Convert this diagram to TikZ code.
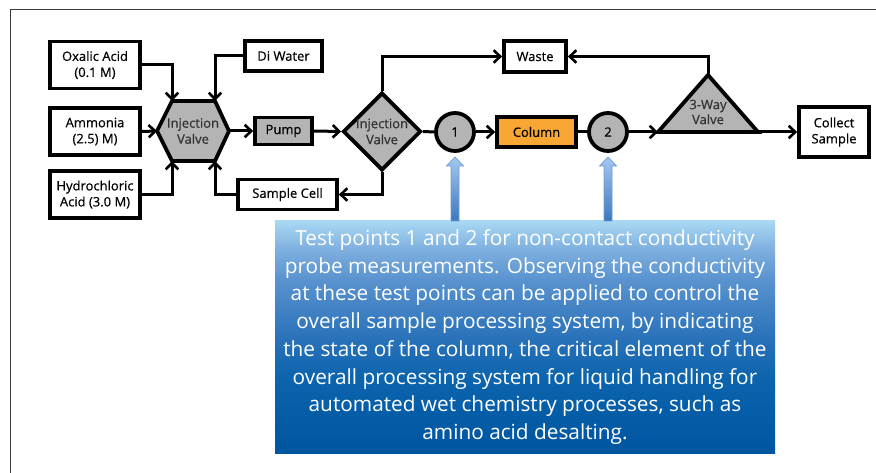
\documentclass[tikz,border=0pt]{standalone}
\usepackage{fontspec}
\setmainfont{Open Sans}
\newfontfamily\lblfont[FakeBold=0.5]{Open Sans}
\usetikzlibrary{arrows.meta,shapes.geometric}
\definecolor{valvegray}{RGB}{180,180,180}
\definecolor{colorange}{RGB}{248,166,52}
\definecolor{framegray}{RGB}{60,60,60}
\definecolor{tbA}{RGB}{0,85,160}
\definecolor{tbB}{RGB}{11,100,173}
\definecolor{tbC}{RGB}{42,114,186}
\definecolor{tbD}{RGB}{90,147,207}
\definecolor{tbE}{RGB}{127,176,223}
\definecolor{tbF}{RGB}{168,216,242}
\pgfdeclareverticalshading{tbshade}{100bp}{color(0bp)=(tbA); color(25bp)=(tbA); color(41bp)=(tbB); color(50bp)=(tbC); color(62.5bp)=(tbD); color(69bp)=(tbE); color(75bp)=(tbF); color(100bp)=(tbF)}
\tikzset{
  lbl/.style={font=\lblfont\fontsize{13}{16}\selectfont},
  box/.style={draw=black, line width=3.8pt, fill=white, align=center, inner sep=0pt, lbl},
  graybox/.style={box, fill=valvegray},
  arr/.style={line width=3pt, -{Straight Barb[length=6.5pt,width=12.5pt,line width=2.6pt]}},
  ln/.style={line width=3pt},
  probe/.style={circle, draw=black, line width=3.8pt, fill=valvegray, minimum size=38pt,
    inner sep=0pt, lbl},
  shapeborder/.style={draw=black, line width=3.8pt, fill=valvegray, line join=miter},
  bluearrow/.style={top color={rgb,255:red,165;green,200;blue,240}, bottom color={rgb,255:red,60;green,120;blue,190},
    draw={rgb,255:red,110;green,155;blue,215}, line width=0.7pt},
}
\begin{document}
\begin{tikzpicture}[x=1pt,y=-1pt]
\useasboundingbox (0,0) rectangle (876,473);
% frame
\draw[framegray, line width=1.6pt] (10.5,480) -- (10.5,9.5) -- (880,9.5);

% source boxes
\node[box, minimum width=90pt, minimum height=47pt] (oxa) at (95,65) {Oxalic Acid\\(0.1 M)};
\node[box, minimum width=90pt, minimum height=47pt] (amm) at (95,131.5) {Ammonia\\(2.5) M)};
\node[box, minimum width=90pt, minimum height=47pt] (hcl) at (95,194.5) {Hydrochloric\\Acid (3.0 M)};
\node[box, minimum width=77pt, minimum height=30pt] (diw) at (283.5,56) {Di Water};

% hexagon injection valve
\coordinate (hvL) at (157,131);
\coordinate (hvTL) at (172,101);
\coordinate (hvTR) at (215,101);
\coordinate (hvR) at (229,131);
\coordinate (hvBR) at (215,161);
\coordinate (hvBL) at (172,161);
\draw[shapeborder] (hvL) -- (hvTL) -- (hvTR) -- (hvR) -- (hvBR) -- (hvBL) -- cycle;
\node[align=center, inner sep=0pt, lbl, text=black!80] (hv) at (193,131) {Injection\\Valve};

\node[graybox, minimum width=57pt, minimum height=27pt] (pump) at (283.5,131) {Pump};
\node[box, minimum width=99pt, minimum height=30pt] (scell) at (287.5,194.5) {Sample Cell};

% diamond injection valve
\node[diamond, draw=black, line width=3.8pt, fill=valvegray, minimum width=78pt, minimum height=77pt,
  inner sep=0pt, align=center, lbl, text=black!80] (iv) at (382,131.5) {Injection\\Valve};

\node[probe] (c1) at (455,132) {1};
\node[box, fill=colorange, minimum width=79pt, minimum height=30pt] (col) at (536.5,132) {Column};
\node[probe] (c2) at (608,132) {2};
\node[box, minimum width=62pt, minimum height=31pt] (waste) at (535,56.5) {Waste};

% triangle 3-way valve
\coordinate (tA) at (708,75);
\coordinate (tL) at (658,132);
\coordinate (tR) at (758,132);
\draw[shapeborder] (tA) -- (tR) -- (tL) -- cycle;
\node[align=center, inner sep=0pt, font=\lblfont\fontsize{13}{15}\selectfont, text=black!80] (tv) at (708,112) {3-Way\\Valve};

\node[box, minimum width=70pt, minimum height=50pt] (coll) at (834,132) {Collect\\Sample};

% connectors
\draw[arr] (oxa.east) -| (hvTL);
\draw[arr] (diw.west) -| (hvTR);
\draw[arr] (hcl.east) -| (hvBL);
\draw[arr] (scell.west) -| (hvBR);
\draw[arr] (amm.east) -- (hvL);
\draw[arr] (hvR) -- (pump.west);
\draw[arr] (pump.east) -- (iv.west);
\draw[arr] (iv.north) |- (waste.west);
\draw[arr] (tA) |- (waste.east);
\draw[arr] (iv.south) |- (scell.east);
\draw[ln] (iv.east) -- (c1.west);
\draw[arr] (c1.east) -- (col.west);
\draw[ln] (col.east) -- (c2.west);
\draw[arr] (c2.east) -- (tL);
\draw[arr] (tR) -- (coll.west);

% text box
\node[minimum width=500pt, minimum height=232pt, inner sep=0pt, shading=tbshade,
  text=white, align=center, font=\fontsize{20.8}{27.7}\selectfont] (tb) at (525,337)
  {Test points 1 and 2 for non-contact conductivity\\
   probe measurements. Observing the conductivity\\
   at these test points can be applied to control the\\
   overall sample processing system, by indicating\\
   the state of the column, the critical element of the\\
   overall processing system for liquid handling for\\
   automated wet chemistry processes, such as\\
   amino acid desalting.};

% blue block arrows
\foreach \n/\px in {a/455, b/608} {
  \draw[bluearrow] (\px-4,221) -- (\px-4,166) -- (\px-8.5,166) -- (\px,157) -- (\px+8.5,166) -- (\px+4,166) -- (\px+4,221) -- cycle;
}
\end{tikzpicture}
\end{document}
